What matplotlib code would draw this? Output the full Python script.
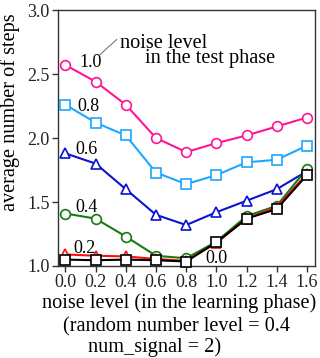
import matplotlib
matplotlib.use("Agg")
import matplotlib.pyplot as plt

plt.rcParams['font.family'] = ['Liberation Serif', 'DejaVu Serif']

# noise level in the learning phase
learn_noise = [0.0, 0.2, 0.4, 0.6, 0.8, 1.0, 1.2, 1.4, 1.6]

# average number of steps, one series per test-phase noise level
steps_10 = [2.57, 2.44, 2.26, 2.00, 1.89, 1.96, 2.02, 2.09, 2.16]
steps_08 = [2.26, 2.12, 2.02, 1.73, 1.64, 1.71, 1.81, 1.83, 1.94]
steps_06 = [1.88, 1.80, 1.60, 1.40, 1.32, 1.42, 1.51, 1.60, 1.74]
steps_04 = [1.41, 1.37, 1.23, 1.08, 1.06, 1.19, 1.39, 1.47, 1.76]
steps_02 = [1.09, 1.08, 1.075, 1.055, 1.04, 1.18, 1.37, 1.46, 1.72]
steps_00 = [1.05, 1.045, 1.05, 1.045, 1.035, 1.185, 1.37, 1.445, 1.71]

series_labels = ['1.0', '0.8', '0.6', '0.4', '0.2', '0.0']
x_ticks = [0.0, 0.2, 0.4, 0.6, 0.8, 1.0, 1.2, 1.4, 1.6]
y_ticks = [1.0, 1.5, 2.0, 2.5, 3.0]

FS_NUM = 13     # tick labels and series labels
FS_TXT = 14.6   # axis titles and annotation

fig = plt.figure(figsize=(3.2, 3.58), dpi=100)
ax = fig.add_axes([0.181, 0.257, 0.803, 0.715])

styles = [
    (steps_10, '#ff1493', 'o'),
    (steps_08, '#1ea7ff', 's'),
    (steps_06, '#0a14d0', '^'),
    (steps_04, '#1a7a12', 'o'),
    (steps_02, '#ff1010', '^'),
    (steps_00, '#000000', 's'),
]
for vals, col, mk in styles:
    ax.plot(learn_noise, vals, color=col, lw=1.5, marker=mk, ms=7.5 if mk == 's' else 7,
            mfc='white', mec=col, mew=1.2, clip_on=False, zorder=3)

# series labels (test-phase noise level)
lab_pos = [(0.09, 2.59), (0.08, 2.25), (0.065, 1.91), (0.065, 1.46), (0.05, 1.14), (0.93, 1.06)]
for txt, (lx, ly) in zip(series_labels, lab_pos):
    ax.text(lx, ly, txt, fontsize=FS_NUM, ha='left', va='center')

ax.plot([0.227, 0.34], [2.65, 2.77], color='#555555', lw=0.6)
ax.text(0.36, 2.74, 'noise level', fontsize=FS_TXT, ha='left', va='center')
ax.text(0.527, 2.62, 'in the test phase', fontsize=FS_TXT, ha='left', va='center')

ax.set_xlim(-0.05, 1.653)
ax.set_ylim(1.0, 3.0)
ax.set_xticks(x_ticks)
ax.set_xticklabels(['%.1f' % v for v in x_ticks])
ax.set_yticks(y_ticks)
ax.set_yticklabels(['%.1f' % v for v in y_ticks])
ax.tick_params(direction='out', length=4, width=1, labelsize=FS_NUM, pad=2, colors='#333333',
               labelcolor='#222222')
for sp in ax.spines.values():
    sp.set_color('#333333')
    sp.set_linewidth(1.0)

ax.set_ylabel('average number of steps', fontsize=FS_TXT)
ax.yaxis.set_label_coords(-0.148, 0.6)
fig.text(179 / 320, 1 - 303 / 358, 'noise level (in the learning phase)', fontsize=FS_TXT,
         ha='center', va='center')
fig.text(63 / 320, 1 - 327 / 358, '(random number level = 0.4', fontsize=FS_TXT, ha='left', va='center')
fig.text(88 / 320, 1 - 347 / 358, 'num_signal = 2)', fontsize=FS_TXT, ha='left', va='center')

fig.savefig('out.png', dpi=100)
